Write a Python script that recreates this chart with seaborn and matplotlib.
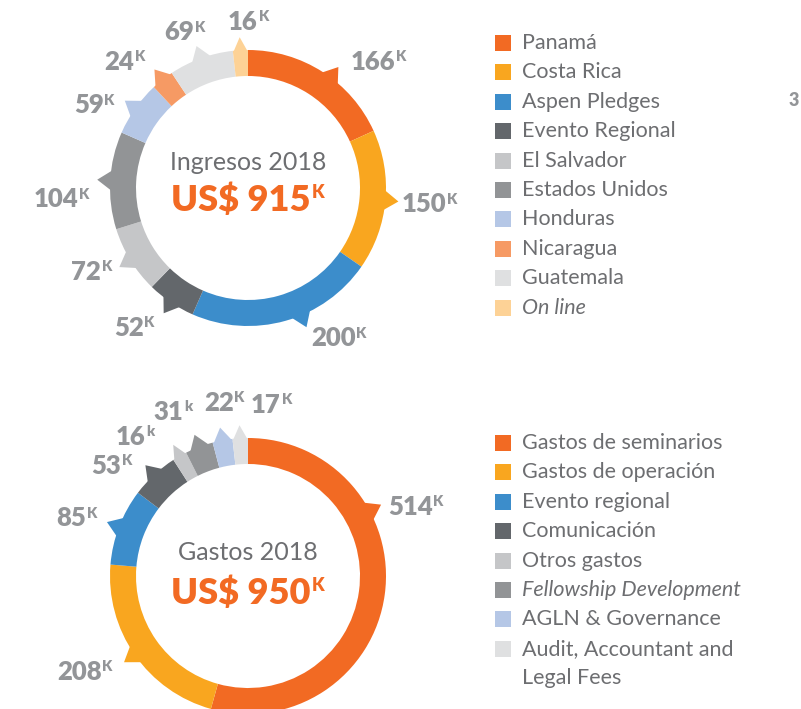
import numpy as np
import matplotlib
matplotlib.use("Agg")
import matplotlib.pyplot as plt
import seaborn as sns
from matplotlib.patches import Rectangle

# ---------------- data ----------------
ing_labels = ["Panamá", "Costa Rica", "Aspen Pledges", "Evento Regional", "El Salvador",
              "Estados Unidos", "Honduras", "Nicaragua", "Guatemala", "On line"]
ing_values = [166, 150, 200, 52, 72, 104, 59, 24, 69, 16]
ing_suffix = ["K", "K", "K", "K", "K", "K", "K", "K", "K", "K"]
ing_title = "Ingresos 2018"
ing_total = "US$ 915"

gas_labels = ["Gastos de seminarios", "Gastos de operación", "Evento regional", "Comunicación",
              "Otros gastos", "Fellowship Development", "AGLN & Governance",
              "Audit, Accountant and\nLegal Fees"]
gas_values = [514, 208, 85, 53, 16, 31, 22, 17]
gas_suffix = ["K", "K", "K", "K", "k", "k", "K", "K"]
gas_title = "Gastos 2018"
gas_total = "US$ 950"

# ---------------- style ----------------
ORANGE = "#F26A23"
AMBER = "#F9A61F"
BLUE = "#3C8DCB"
DARK = "#63676B"
LGRAY = "#C5C6C8"
MGRAY = "#929496"
LBLUE = "#B5C7E6"
LORANGE = "#F69A64"
VLGRAY = "#DFE0E1"
PEACH = "#FDD296"
ing_colors = [ORANGE, AMBER, BLUE, DARK, LGRAY, MGRAY, LBLUE, LORANGE, VLGRAY, PEACH]
gas_colors = [ORANGE, AMBER, BLUE, DARK, LGRAY, MGRAY, LBLUE, VLGRAY]
ing_italic = [False] * 9 + [True]
gas_italic = [False] * 5 + [True, False, False]

# pointer shift from segment middle (deg) and label placement (deg offset, radius px)
ing_ptr_shift = [4, 0, -7, 0, 0, 0, 0, 0, 0, 0]
ing_lab_off = [9.4, 0, -8.5, 5, 3.3, -6.6, -7, -6, -2, 3.5]
ing_lab_r = [182, 183, 176, 180, 177, 186, 174, 176, 168, 166]
gas_ptr_shift = [-36, 0, 0, 0, 0, 0, 0, 0]
gas_lab_off = [5.8, 4.3, -2.3, -8.2, -8.9, -3.3, 3, 11.2]
gas_lab_r = [182, 189, 180, 175, 178, 180, 175, 173]

NUM_GRAY = "#939598"
TXT_GRAY = "#6D6E71"

sns.set_theme(style="white")
plt.rcParams["font.family"] = ["Lato", "DejaVu Sans"]

W, H = 801, 709
fig = plt.figure(figsize=(W / 100, H / 100), dpi=100)
ax = fig.add_axes([0, 0, 1, 1])

R_OUT = 138
RING = 26
TIP = 13


def draw_donut(cx, cy_img, values, colors, suffix, ptr_shift, lab_off, lab_r, title, total, title_dy, total_dy):
    cy = H - cy_img
    ax.pie(values, colors=colors, startangle=90, counterclock=False, radius=R_OUT,
           center=(cx, cy), wedgeprops=dict(width=RING, linewidth=0))
    vals = np.array(values, dtype=float)
    ang = vals / vals.sum() * 360.0
    start = np.concatenate([[0], np.cumsum(ang)[:-1]])
    for i, v in enumerate(values):
        mid = start[i] + ang[i] / 2 + ptr_shift[i]
        half = min(4.5, ang[i] / 2)
        pts = []
        for a, r in [(mid - half, R_OUT - 2), (mid, R_OUT + TIP), (mid + half, R_OUT - 2)]:
            phi = np.deg2rad(90 - a)
            pts.append((cx + r * np.cos(phi), cy + r * np.sin(phi)))
        xs, ys = zip(*pts)
        ax.fill(xs, ys, color=colors[i], linewidth=0, zorder=1)
        # label
        la = mid + lab_off[i]
        phi = np.deg2rad(90 - la)
        lx = cx + lab_r[i] * np.cos(phi)
        ly = cy + lab_r[i] * np.sin(phi)
        t = ax.text(lx - 6, ly, f"{v}", fontsize=18.5, fontweight="heavy", color=NUM_GRAY,
                    ha="center", va="center", zorder=3)
        ax.annotate(suffix[i], xy=(1.0, 0.98), xycoords=t, fontsize=10.5, fontweight="heavy",
                    color=NUM_GRAY, ha="left", va="top", xytext=(0.5, 0),
                    textcoords="offset points")
    ax.text(cx, H - (cy_img + title_dy), title, fontsize=18, fontweight="normal", color=TXT_GRAY,
            ha="center", va="center")
    tt = ax.text(cx - 7, H - (cy_img + total_dy), total, fontsize=26, fontweight="heavy",
                 color=ORANGE, ha="center", va="center")
    ax.annotate("K", xy=(1.0, 0.97), xycoords=tt, fontsize=13, fontweight="heavy",
                color=ORANGE, ha="left", va="top", xytext=(0.5, 0), textcoords="offset points")


def draw_legend(x0, y0_img, labels, colors, italic, step=29.4):
    row = 0
    for lab, col, it in zip(labels, colors, italic):
        yc = H - (y0_img + row * step)
        ax.add_patch(Rectangle((x0, yc - 8), 16, 16, color=col, linewidth=0))
        for j, line in enumerate(lab.split("\n")):
            ax.text(x0 + 27, yc - j * step, line, fontsize=15.5, fontweight="normal",
                    color=TXT_GRAY, ha="left", va="center",
                    style="italic" if it else "normal")
        row += 1 + lab.count("\n")


draw_donut(248, 188, ing_values, ing_colors, ing_suffix, ing_ptr_shift, ing_lab_off, ing_lab_r,
           ing_title, ing_total, -26, 12)
draw_donut(248, 576, gas_values, gas_colors, gas_suffix, gas_ptr_shift, gas_lab_off, gas_lab_r,
           gas_title, gas_total, -23, 17)

draw_legend(495, 43, ing_labels, ing_colors, ing_italic)
draw_legend(495, 443, gas_labels, gas_colors, gas_italic)

# partly visible label from a neighbouring chart
ax.text(789, H - 101, "3", fontsize=13, fontweight="heavy", color=NUM_GRAY, ha="left", va="center")

ax.set_xlim(0, W)
ax.set_ylim(0, H)
ax.set_aspect("equal")
ax.axis("off")
fig.savefig("out.png", dpi=100, facecolor="white")
